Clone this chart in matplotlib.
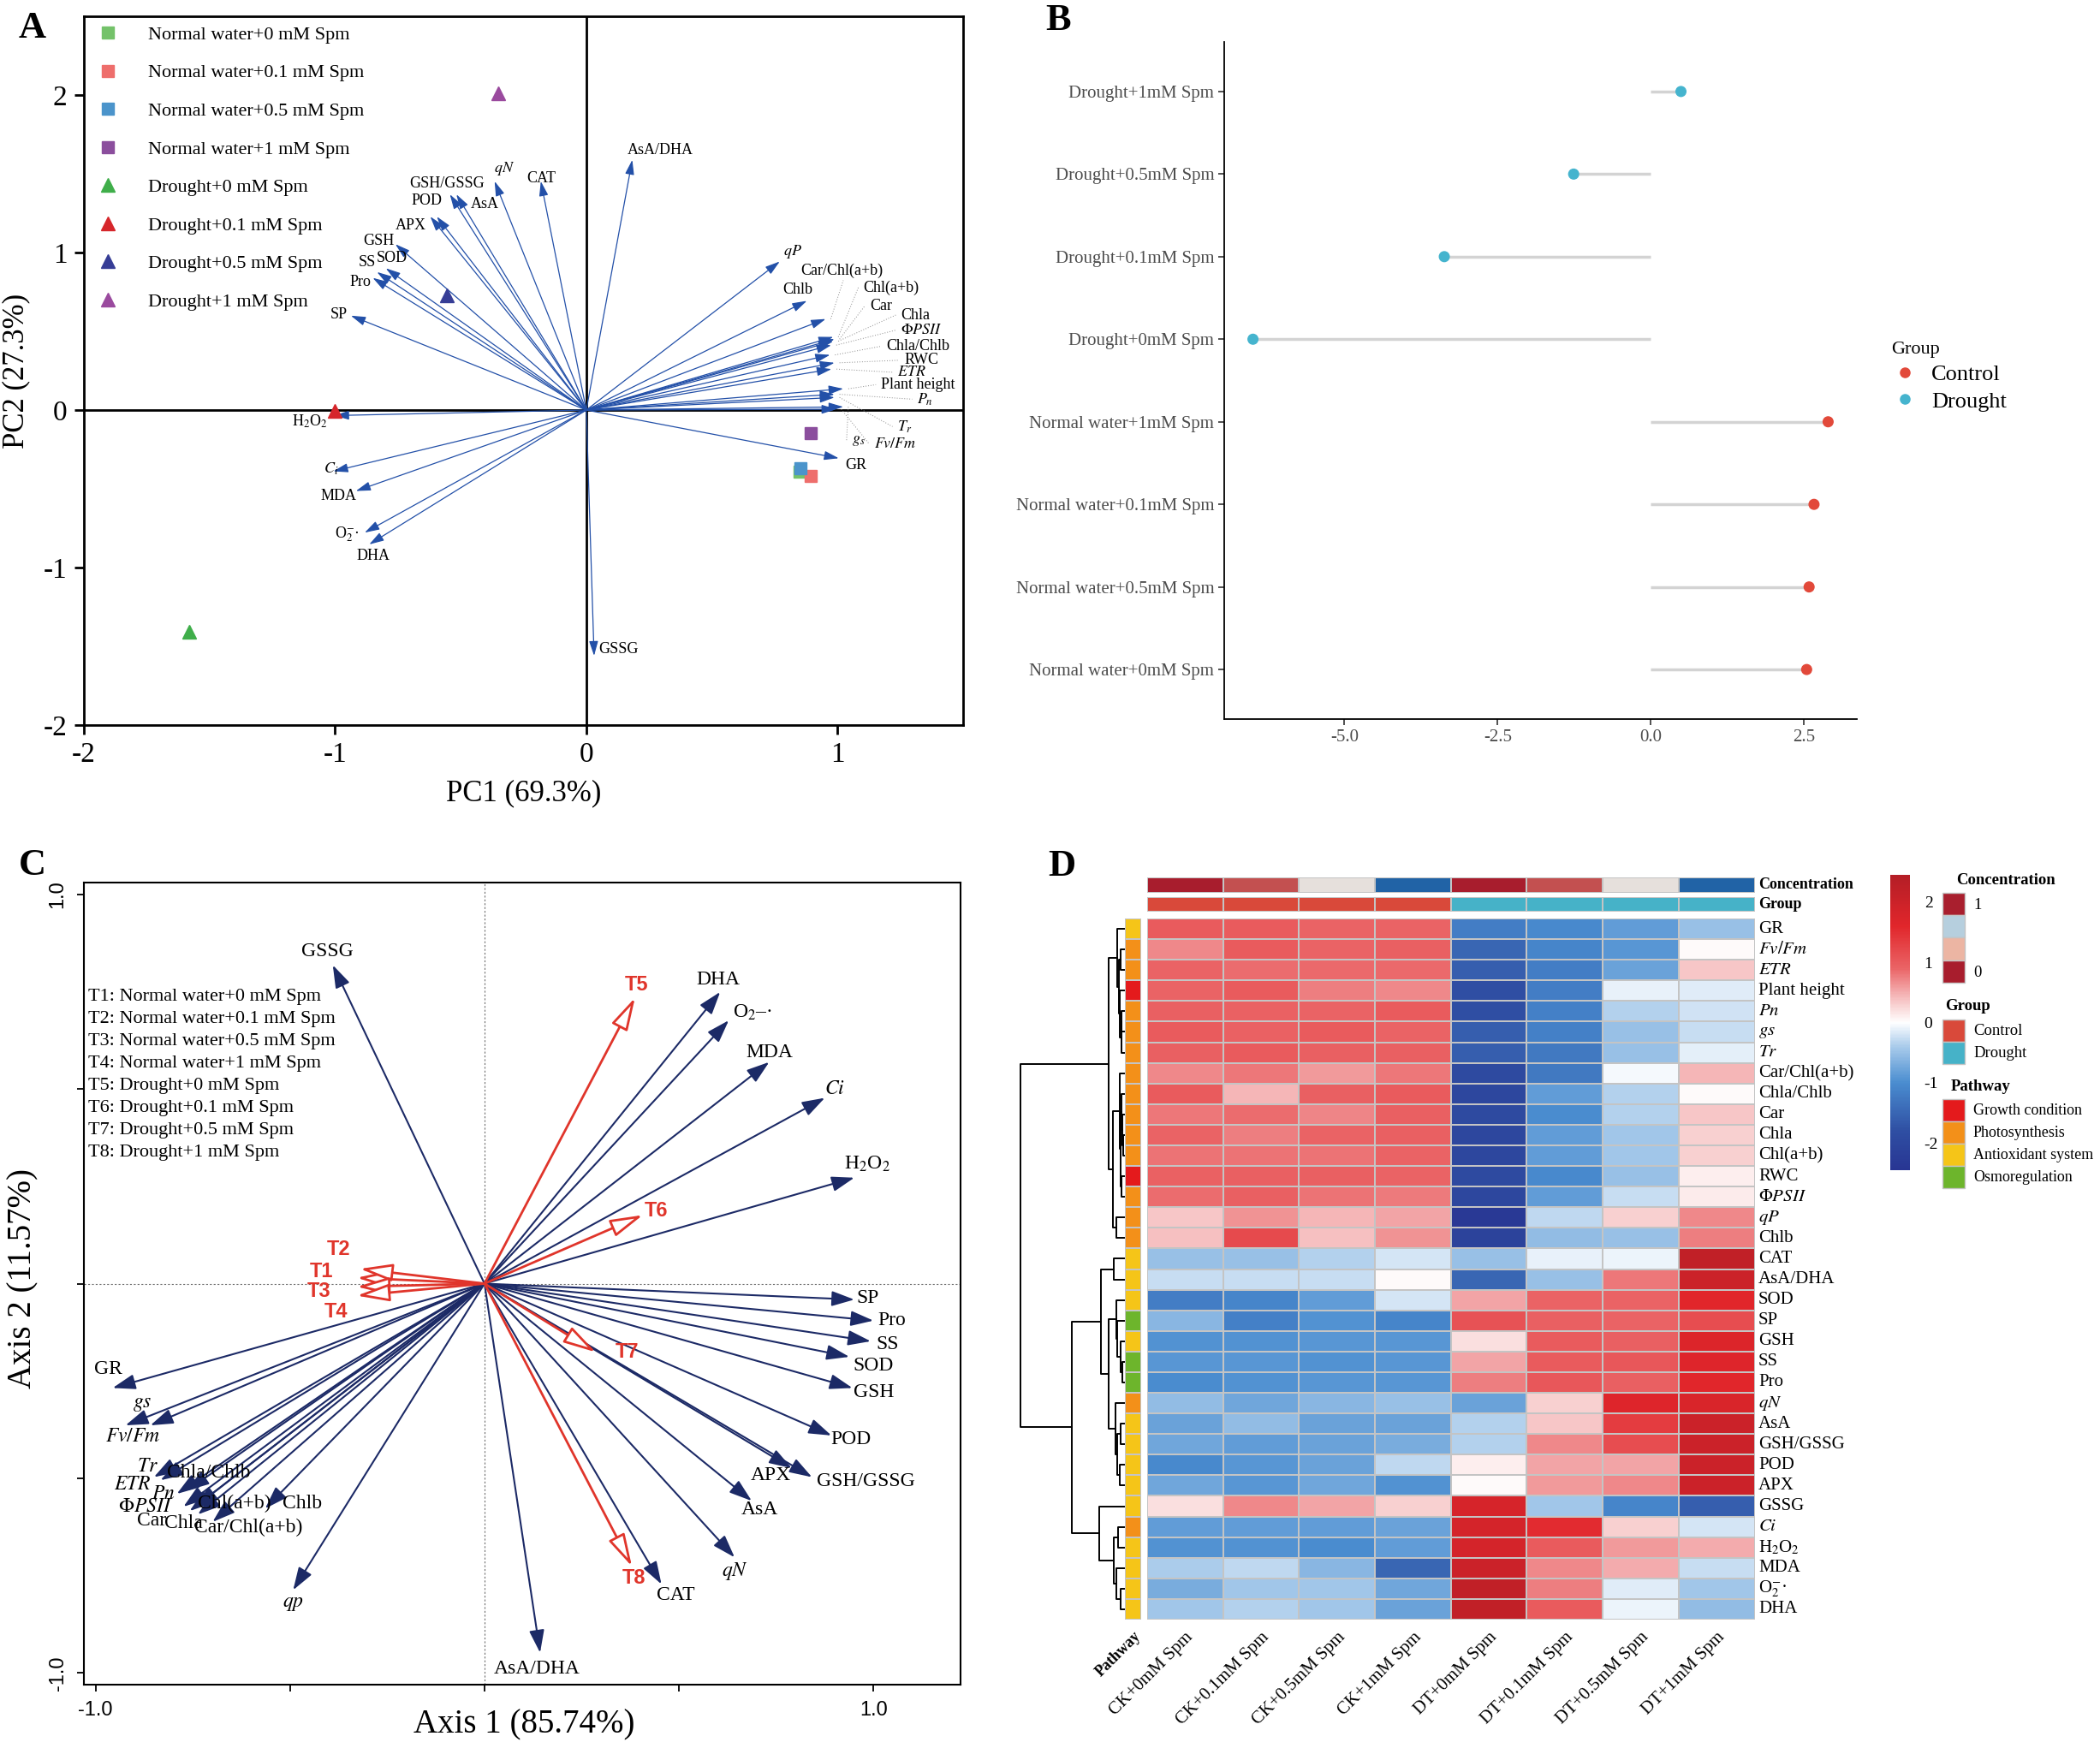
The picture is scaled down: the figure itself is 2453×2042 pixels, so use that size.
import numpy as np
import matplotlib as mpl
import matplotlib.pyplot as plt
from matplotlib.colors import LinearSegmentedColormap, ListedColormap
from matplotlib.lines import Line2D
from matplotlib.patches import Rectangle

mpl.rcParams['font.family'] = ['Liberation Serif', 'DejaVu Serif']
mpl.rcParams['mathtext.fontset'] = 'stix'
mpl.rcParams['axes.unicode_minus'] = False

W, H = 2453, 2042

# ---------------- panel A: PCA biplot ----------------
a_groups = ['Normal water+0 mM Spm', 'Normal water+0.1 mM Spm', 'Normal water+0.5 mM Spm',
            'Normal water+1 mM Spm', 'Drought+0 mM Spm', 'Drought+0.1 mM Spm',
            'Drought+0.5 mM Spm', 'Drought+1 mM Spm']
a_pc1 = [0.849, 0.892, 0.854, 0.892, -1.58, -1.003, -0.555, -0.352]
a_pc2 = [-0.39, -0.42, -0.368, -0.146, -1.41, -0.004, 0.728, 2.01]

a_vars = ['AsA/DHA', 'CAT', 'qN', 'GSH/GSSG', 'AsA', 'POD', 'APX', 'GSH', 'SOD', 'SS', 'Pro',
          'SP', 'H2O2', 'Ci', 'MDA', 'O2', 'DHA', 'GSSG', 'qP', 'Chlb', 'Car/Chl(a+b)',
          'Chl(a+b)', 'Car', 'Chla', 'PhiPSII', 'Chla/Chlb', 'RWC', 'ETR', 'Plant height',
          'Pn', 'Tr', 'gs', 'Fv/Fm', 'GR']
a_load1 = [0.183, -0.181, -0.365, -0.543, -0.517, -0.621, -0.595, -0.76, -0.798, -0.833, -0.85,
           -0.937, -1.003, -1.007, -0.917, -0.882, -0.864, 0.031, 0.77, 0.878, 0.953,
           0.983, 0.988, 0.983, 0.975, 0.97, 0.988, 0.976, 1.023, 0.988, 0.988, 1.023, 0.995, 1.005]
a_load2 = [1.588, 1.452, 1.452, 1.369, 1.369, 1.228, 1.228, 1.053, 0.90, 0.876, 0.839,
           0.599, -0.035, -0.389, -0.514, -0.778, -0.853, -1.56, 0.943, 0.693, 0.578,
           0.464, 0.45, 0.437, 0.412, 0.35, 0.30, 0.26, 0.135, 0.10, 0.08, 0.02, 0.005, -0.306]

# ---------------- panel B: lollipop ----------------
b_labels = ['Normal water+0mM Spm', 'Normal water+0.5mM Spm', 'Normal water+0.1mM Spm',
            'Normal water+1mM Spm', 'Drought+0mM Spm', 'Drought+0.1mM Spm',
            'Drought+0.5mM Spm', 'Drought+1mM Spm']
b_values = [2.54, 2.58, 2.66, 2.89, -6.49, -3.37, -1.26, 0.49]
b_group = ['Control'] * 4 + ['Drought'] * 4

# ---------------- panel C: RDA biplot ----------------
c_vars = ['GSSG', 'DHA', 'O2', 'MDA', 'Ci', 'H2O2', 'SP', 'Pro', 'SS', 'SOD', 'GSH', 'POD',
          'GSH/GSSG', 'APX', 'AsA', 'qN', 'CAT', 'AsA/DHA', 'qp', 'GR', 'gs', 'Fv/Fm', 'Tr',
          'Chla/Chlb', 'ETR', 'Pn', 'PhiPSII', 'Car', 'Chla', 'Chl(a+b)', 'Car/Chl(a+b)', 'Chlb']
c_ax1 = [-0.39, 0.606, 0.628, 0.732, 0.875, 0.951, 0.951, 1.0, 0.993, 0.938, 0.946, 0.892,
         0.842, 0.79, 0.687, 0.643, 0.455, 0.143, -0.492, -0.956, -0.923, -0.859, -0.85,
         -0.766, -0.833, -0.791, -0.774, -0.758, -0.737, -0.744, -0.699, -0.564]
c_ax2 = [0.818, 0.749, 0.676, 0.569, 0.477, 0.272, -0.041, -0.095, -0.148, -0.188, -0.268, -0.39,
         -0.497, -0.474, -0.558, -0.703, -0.772, -0.948, -0.787, -0.268, -0.364, -0.364, -0.497,
         -0.532, -0.505, -0.54, -0.573, -0.584, -0.593, -0.573, -0.612, -0.578]
c_treat = ['T1', 'T2', 'T3', 'T4', 'T5', 'T6', 'T7', 'T8']
c_treat_names = ['Normal water+0 mM Spm', 'Normal water+0.1 mM Spm', 'Normal water+0.5 mM Spm',
                 'Normal water+1 mM Spm', 'Drought+0 mM Spm', 'Drought+0.1 mM Spm',
                 'Drought+0.5 mM Spm', 'Drought+1 mM Spm']
c_t1 = [-0.328, -0.32, -0.328, -0.328, 0.387, 0.407, 0.286, 0.379]
c_t2 = [0.015, 0.038, -0.008, -0.031, 0.734, 0.176, -0.176, -0.726]

# ---------------- panel D: heatmap ----------------
d_cols = ['CK+0mM Spm', 'CK+0.1mM Spm', 'CK+0.5mM Spm', 'CK+1mM Spm',
          'DT+0mM Spm', 'DT+0.1mM Spm', 'DT+0.5mM Spm', 'DT+1mM Spm']
d_conc = [0, 0.1, 0.5, 1, 0, 0.1, 0.5, 1]
d_group = [0, 0, 0, 0, 1, 1, 1, 1]
d_rows = ['GR', 'Fv/Fm', 'ETR', 'Plant height', 'Pn', 'gs', 'Tr', 'Car/Chl(a+b)', 'Chla/Chlb',
          'Car', 'Chla', 'Chl(a+b)', 'RWC', 'PhiPSII', 'qP', 'Chlb', 'CAT', 'AsA/DHA', 'SOD',
          'SP', 'GSH', 'SS', 'Pro', 'qN', 'AsA', 'GSH/GSSG', 'POD', 'APX', 'GSSG', 'Ci',
          'H2O2', 'MDA', 'O2', 'DHA']
d_pathway = [2, 1, 1, 0, 1, 1, 1, 1, 1, 1, 1, 1, 0, 1, 1, 1, 2, 2, 2, 3, 2, 3, 3, 1, 2, 2,
             2, 2, 2, 1, 2, 2, 2, 2]
d_values = [
    [1.0, 1.0, 0.9, 0.9, -1.2, -1.05, -0.85, -0.5],
    [0.7, 1.0, 0.9, 0.95, -1.5, -1.1, -0.9, 0.02],
    [0.9, 0.85, 0.88, 0.88, -1.6, -1.2, -0.8, 0.35],
    [0.9, 1.0, 0.75, 0.7, -1.8, -1.2, -0.1, -0.15],
    [0.95, 0.92, 0.9, 1.0, -1.8, -1.15, -0.35, -0.22],
    [1.0, 0.92, 1.0, 0.9, -1.6, -1.15, -0.5, -0.25],
    [0.95, 1.0, 0.95, 0.95, -1.6, -1.25, -0.5, -0.12],
    [0.7, 0.8, 0.6, 0.8, -1.9, -1.25, -0.05, 0.45],
    [1.0, 0.45, 0.95, 1.0, -2.0, -0.85, -0.35, 0.02],
    [0.8, 0.85, 0.72, 0.95, -1.9, -1.0, -0.35, 0.35],
    [0.9, 0.75, 0.9, 0.95, -2.0, -0.85, -0.45, 0.3],
    [0.82, 0.82, 0.82, 0.9, -2.0, -0.85, -0.45, 0.3],
    [0.92, 0.95, 0.95, 0.9, -1.9, -1.05, -0.5, 0.1],
    [0.85, 0.95, 0.82, 0.78, -2.0, -0.85, -0.25, 0.12],
    [0.35, 0.65, 0.45, 0.55, -2.35, -0.3, 0.3, 0.7],
    [0.4, 1.2, 0.4, 0.65, -2.1, -0.55, -0.5, 0.75],
    [-0.5, -0.5, -0.35, -0.2, -0.5, -0.1, -0.08, 2.2],
    [-0.25, -0.25, -0.25, 0.02, -1.5, -0.5, 0.8, 2.0],
    [-1.2, -1.1, -0.85, -0.2, 0.55, 0.9, 0.9, 1.6],
    [-0.6, -1.15, -0.95, -1.1, 1.1, 0.95, 0.9, 1.15],
    [-0.95, -0.95, -0.9, -0.9, 0.2, 1.0, 0.95, 1.7],
    [-0.9, -0.9, -0.95, -0.9, 0.55, 1.0, 1.05, 1.65],
    [-1.0, -0.95, -0.9, -0.9, 0.75, 1.05, 0.95, 1.6],
    [-0.55, -0.75, -0.6, -0.5, -0.8, 0.3, 1.65, 1.75],
    [-0.8, -0.55, -0.8, -0.8, -0.35, 0.35, 1.35, 2.0],
    [-0.75, -0.85, -0.8, -0.7, -0.35, 0.7, 1.15, 2.0],
    [-1.05, -0.9, -0.8, -0.3, 0.1, 0.55, 0.55, 2.0],
    [-0.75, -0.9, -0.75, -0.95, 0.03, 0.6, 0.7, 2.0],
    [0.2, 0.7, 0.55, 0.3, 1.8, -0.45, -1.1, -1.6],
    [-0.85, -0.85, -0.85, -0.8, 1.85, 1.55, 0.3, -0.2],
    [-0.95, -0.95, -1.0, -0.85, 1.85, 1.0, 0.6, 0.5],
    [-0.4, -0.3, -0.6, -1.5, 2.0, 0.7, 0.5, -0.25],
    [-0.7, -0.45, -0.45, -0.75, 2.2, 0.75, -0.15, -0.45],
    [-0.45, -0.35, -0.45, -0.8, 2.2, 1.0, -0.08, -0.55],
]
# row dendrogram: (child, child, height); new nodes numbered from 34
d_tree = [
    (4, 5, 8), (34, 6, 10), (3, 35, 14), (1, 2, 13), (37, 36, 18), (0, 38, 25),
    (10, 11, 3), (9, 40, 6), (8, 41, 9), (12, 13, 8), (42, 43, 12), (7, 44, 16),
    (14, 15, 27), (45, 46, 38), (39, 47, 53),
    (16, 17, 35), (21, 22, 5), (20, 50, 13), (19, 51, 24), (18, 52, 27), (24, 25, 13),
    (26, 27, 15), (54, 55, 23), (23, 56, 30), (53, 57, 55), (49, 58, 82), (29, 30, 20),
    (32, 33, 13), (31, 61, 27), (60, 62, 35), (28, 63, 88), (59, 64, 183), (48, 65, 363),
]

# ---------------- display text ----------------
a_text = {'H2O2': r'H$_2$O$_2$', 'Ci': r'$C_i$', 'O2': r'O$_2^{-}$·', 'qN': r'$qN$',
          'qP': r'$qP$', 'PhiPSII': r'$\mathit{\Phi PSII}$', 'ETR': r'$ETR$', 'Pn': r'$P_n$',
          'Tr': r'$T_r$', 'gs': r'$g_s$', 'Fv/Fm': r'$Fv/Fm$'}
c_text = {'H2O2': r'H$_2$O$_2$', 'Ci': r'$Ci$', 'O2': r'O$_2$–·', 'qN': r'$qN$', 'qp': r'$qp$',
          'PhiPSII': r'$\mathit{\Phi PSII}$', 'ETR': r'$ETR$', 'Pn': r'$Pn$', 'Tr': r'$Tr$',
          'gs': r'$gs$', 'Fv/Fm': r'$Fv/Fm$'}
d_text = {'H2O2': r'H$_2$O$_2$', 'Ci': r'$Ci$', 'O2': r'O$_2^{-}$·', 'qN': r'$qN$',
          'qP': r'$qP$', 'PhiPSII': r'$\Phi\mathit{PSII}$', 'ETR': r'$ETR$', 'Pn': r'$Pn$',
          'Tr': r'$Tr$', 'gs': r'$gs$', 'Fv/Fm': r'$Fv/Fm$'}

# label placement (layout only)
a_lab = {'AsA/DHA': (0.295, 1.65, 'center'), 'CAT': (-0.18, 1.47, 'center'),
         'qN': (-0.326, 1.53, 'center'), 'GSH/GSSG': (-0.555, 1.44, 'center'),
         'POD': (-0.636, 1.33, 'center'), 'AsA': (-0.404, 1.305, 'center'),
         'APX': (-0.70, 1.17, 'center'), 'GSH': (-0.827, 1.074, 'center'),
         'SS': (-0.874, 0.94, 'center'), 'SOD': (-0.774, 0.965, 'center'),
         'Pro': (-0.90, 0.81, 'center'), 'SP': (-0.986, 0.606, 'center'),
         'H2O2': (-1.10, -0.07, 'center'), 'Ci': (-1.017, -0.375, 'center'),
         'MDA': (-0.986, -0.547, 'center'), 'O2': (-0.952, -0.787, 'center'),
         'DHA': (-0.847, -0.926, 'center'), 'GSSG': (0.05, -1.52, 'left'),
         'qP': (0.82, 1.008, 'center'), 'Chlb': (0.842, 0.761, 'center'), 'GR': (1.03, -0.349, 'left'),
         'Car/Chl(a+b)': (0.853, 0.883, 'left'), 'Chl(a+b)': (1.103, 0.778, 'left'),
         'Car': (1.129, 0.662, 'left'), 'Chla': (1.252, 0.603, 'left'),
         'PhiPSII': (1.252, 0.507, 'left'), 'Chla/Chlb': (1.194, 0.405, 'left'),
         'RWC': (1.265, 0.316, 'left'), 'ETR': (1.239, 0.24, 'left'),
         'Plant height': (1.173, 0.161, 'left'), 'Pn': (1.317, 0.069, 'left'),
         'Tr': (1.239, -0.105, 'left'), 'gs': (1.056, -0.194, 'left'),
         'Fv/Fm': (1.147, -0.217, 'left')}
a_leader = ['Car/Chl(a+b)', 'Chl(a+b)', 'Car', 'Chla', 'PhiPSII', 'Chla/Chlb', 'RWC', 'ETR',
            'Plant height', 'Pn', 'Tr', 'gs', 'Fv/Fm']
c_lab = {'GSSG': (-0.404, 0.852), 'DHA': (0.601, 0.78), 'O2': (0.69, 0.696), 'MDA': (0.732, 0.593),
         'Ci': (0.90, 0.5), 'H2O2': (0.985, 0.306), 'SP': (0.985, -0.038), 'Pro': (1.047, -0.095),
         'SS': (1.035, -0.157), 'SOD': (1.0, -0.211), 'GSH': (1.0, -0.28), 'POD': (0.943, -0.40),
         'GSH/GSSG': (0.98, -0.508), 'APX': (0.736, -0.492), 'AsA': (0.707, -0.58),
         'qN': (0.643, -0.739), 'CAT': (0.492, -0.80), 'AsA/DHA': (0.135, -0.989),
         'qp': (-0.492, -0.823), 'GR': (-0.968, -0.219), 'gs': (-0.879, -0.31),
         'Fv/Fm': (-0.904, -0.394), 'Tr': (-0.867, -0.471), 'ETR': (-0.904, -0.517),
         'Chla/Chlb': (-0.71, -0.486), 'Pn': (-0.825, -0.54), 'PhiPSII': (-0.872, -0.573),
         'Car': (-0.855, -0.609), 'Chla': (-0.774, -0.615), 'Chl(a+b)': (-0.643, -0.566),
         'Car/Chl(a+b)': (-0.606, -0.627), 'Chlb': (-0.468, -0.566)}
c_tlab = [(-0.42, 0.03), (-0.375, 0.087), (-0.425, -0.02), (-0.382, -0.072),
          (0.39, 0.767), (0.442, 0.186), (0.367, -0.176), (0.385, -0.757)]

a_colors = ['#74C26A', '#EE6E6C', '#4B94CB', '#8B4E9D', '#3FAE4A', '#D6262B', '#363D96', '#9A4A9E']
a_marks = ['s'] * 4 + ['^'] * 4
b_pal = {'Control': '#E2493A', 'Drought': '#45B4CE'}

fig = plt.figure(figsize=(W / 100, H / 100), dpi=100)

# ===== A =====
axA = fig.add_axes([98 / W, 1 - 847 / H, 1027 / W, 828 / H])
axA.set_xlim(-2, 1.5)
axA.set_ylim(-2, 2.5)
axA.axhline(0, color='k', lw=2.0, zorder=1)
axA.axvline(0, color='k', lw=2.0, zorder=1)
for n, x, y in zip(a_vars, a_load1, a_load2):
    axA.annotate('', xy=(x, y), xytext=(0, 0),
                 arrowprops=dict(arrowstyle='-|>,head_length=0.65,head_width=0.2', color='#2350A8',
                                 lw=0.9, shrinkA=0, shrinkB=0, mutation_scale=16), zorder=3)
    lx, ly, ha = a_lab[n]
    axA.text(lx, ly, a_text.get(n, n), fontsize=13, ha=ha, va='center', zorder=4)
    if n in a_leader:
        ex = lx - 0.02 if n != 'Car/Chl(a+b)' else lx + 0.17
        ey = ly if n != 'Car/Chl(a+b)' else ly - 0.06
        axA.plot([x + 0.02, ex], [y, ey], ls=(0, (1, 2)), color='#8A8A8A', lw=0.7, zorder=2)
for i in range(len(a_groups)):
    axA.plot(a_pc1[i], a_pc2[i], ls='', marker=a_marks[i], color=a_colors[i],
             ms=10 if a_marks[i] == 's' else 12, zorder=5, label=a_groups[i])
axA.legend(loc='upper left', bbox_to_anchor=(0.008, 0.997), frameon=False, fontsize=16,
           handlelength=1.0, handletextpad=1.6, labelspacing=1.08, borderaxespad=0)
axA.set_xticks([-2, -1, 0, 1])
axA.set_yticks([-2, -1, 0, 1, 2])
axA.tick_params(labelsize=24, width=2, length=8, direction='out', pad=6)
for s in axA.spines.values():
    s.set_linewidth(2.0)

# ===== B =====
axB = fig.add_axes([1430 / W, 1 - 840 / H, 739 / W, 791 / H])
yb = np.arange(1, len(b_labels) + 1)
axB.hlines(yb, 0, b_values, color='#D3D3D3', lw=2.5, zorder=1)
axB.scatter(b_values, yb, c=[b_pal[g] for g in b_group], s=70, zorder=2)
lo, hi = min(min(b_values), 0), max(max(b_values), 0)
pad = 0.05 * (hi - lo)
axB.set_xlim(lo - pad, hi + pad)
axB.set_ylim(0.4, len(b_labels) + 0.6)
axB.set_yticks(yb)
axB.set_yticklabels(b_labels)
axB.set_xticks([-5, -2.5, 0, 2.5])
axB.set_xticklabels(['-5.0', '-2.5', '0.0', '2.5'])
axB.tick_params(labelsize=15, labelcolor='#4D4D4D', length=5, width=1.2, color='#333333')
for s in ['top', 'right']:
    axB.spines[s].set_visible(False)
for s in ['left', 'bottom']:
    axB.spines[s].set_linewidth(1.3)
hB = [Line2D([], [], ls='', marker='o', ms=8, color=b_pal[k]) for k in b_pal]
fig.legend(hB, list(b_pal), title='Group', loc='upper left',
           bbox_to_anchor=(2185 / W, 1 - 375 / H), frameon=False, fontsize=19,
           title_fontsize=16, alignment='left', handletextpad=0.6, labelspacing=0.3,
           handlelength=1.2)

# ===== C =====
axC = fig.add_axes([98 / W, 1 - 1968 / H, 1024 / W, 937 / H])
axC.set_xlim(-1.03, 1.224)
axC.set_ylim(-1.03, 1.03)
axC.axhline(0, ls=(0, (2, 2)), color='#6E6E6E', lw=0.8)
axC.axvline(0, ls=(0, (2, 2)), color='#6E6E6E', lw=0.8)
for n, x, y in zip(c_vars, c_ax1, c_ax2):
    axC.annotate('', xy=(x, y), xytext=(0, 0),
                 arrowprops=dict(arrowstyle='-|>,head_length=0.9,head_width=0.3', color='#1C2A66',
                                 lw=1.5, shrinkA=0, shrinkB=0, mutation_scale=18), zorder=3)
    lx, ly = c_lab[n]
    axC.text(lx, ly, c_text.get(n, n), fontsize=17, ha='center', va='center', zorder=4)
for i, t in enumerate(c_treat):
    axC.annotate('', xy=(c_t1[i], c_t2[i]), xytext=(0, 0),
                 arrowprops=dict(arrowstyle='-|>,head_length=1.3,head_width=0.35',
                                 edgecolor='#E0352B', facecolor='white', lw=2.0,
                                 shrinkA=0, shrinkB=0, mutation_scale=18), zorder=5)
    axC.text(c_tlab[i][0], c_tlab[i][1], t, color='#E0352B', fontsize=17, fontweight='bold',
             family='Liberation Sans', ha='center', va='center', zorder=6)
for i, t in enumerate(c_treat):
    axC.text(-1.018, 0.737 - i * 0.0573, f'{t}: {c_treat_names[i]}', fontsize=16,
             ha='left', va='center')
axC.set_xticks([-1, -0.5, 0, 0.5, 1])
axC.set_xticklabels(['-1.0', '', '', '', '1.0'], family='Liberation Sans')
axC.set_yticks([-1, -0.5, 0, 0.5, 1])
axC.set_yticklabels(['-1.0', '', '', '', '1.0'], family='Liberation Sans', rotation=90,
                    va='center')
axC.tick_params(labelsize=17, length=6, width=1.3, pad=8)
for s in axC.spines.values():
    s.set_linewidth(1.5)

# ===== D =====
hm_cmap = LinearSegmentedColormap.from_list('hm', [
    (0.0, '#283593'), (0.133, '#2F4FA3'), (0.296, '#4A8DD0'), (0.418, '#A9CBEB'),
    (0.5, '#FFFFFF'), (0.582, '#F6BFC0'), (0.684, '#EA6466'), (0.827, '#E1262B'),
    (1.0, '#B41E26')])
conc_cmap = LinearSegmentedColormap.from_list('conc', [
    (0.0, '#A81D2D'), (0.25, '#EE9F86'), (0.5, '#E7E0DC'), (0.75, '#9EC7DF'), (1.0, '#2163A6')])
grp_cmap = ListedColormap(['#D9493A', '#46B2C8'])
path_names = ['Growth condition', 'Photosynthesis', 'Antioxidant system', 'Osmoregulation']
path_cmap = ListedColormap(['#E41A1C', '#F39019', '#F5C518', '#6DB52C'])
vlim = 2.45
nr, nc = len(d_rows), len(d_cols)
edge = '#C4C4C4'

axH = fig.add_axes([1340 / W, 1 - 1892 / H, 709.5 / W, 819 / H])
axH.pcolormesh(np.array(d_values), cmap=hm_cmap, vmin=-vlim, vmax=vlim, edgecolors=edge,
               linewidth=1.2)
axH.set_xlim(0, nc)
axH.set_ylim(nr, 0)
axH.axis('off')
for r, n in enumerate(d_rows):
    axH.text(nc + 0.05, r + 0.5, d_text.get(n, n), fontsize=15, ha='left', va='center')
for c, n in enumerate(d_cols):
    axH.text(c + 0.5, nr + 0.45, n, fontsize=15, rotation=45, ha='right', va='top',
             rotation_mode='anchor')

axCon = fig.add_axes([1340 / W, 1 - 1043 / H, 709.5 / W, 18.3 / H])
axCon.pcolormesh(np.array([d_conc]), cmap=conc_cmap, vmin=0, vmax=1, edgecolors=edge, linewidth=1.2)
axCon.set_xlim(0, nc)
axCon.axis('off')
axCon.text(nc + 0.05, 0.5, 'Concentration', fontsize=13, fontweight='bold', ha='left', va='center')
axGr = fig.add_axes([1340 / W, 1 - 1065.3 / H, 709.5 / W, 17.6 / H])
axGr.pcolormesh(np.array([d_group]), cmap=grp_cmap, vmin=0, vmax=1, edgecolors=edge, linewidth=1.2)
axGr.set_xlim(0, nc)
axGr.axis('off')
axGr.text(nc + 0.05, 0.5, 'Group', fontsize=13, fontweight='bold', ha='left', va='center')

axP = fig.add_axes([1314 / W, 1 - 1892 / H, 19 / W, 819 / H])
axP.pcolormesh(np.array(d_pathway).reshape(-1, 1), cmap=path_cmap, vmin=-0.5, vmax=3.5,
               edgecolors=edge, linewidth=1.2)
axP.set_ylim(nr, 0)
axP.axis('off')
axP.text(0.5, nr + 0.45, 'Pathway', fontsize=13, fontweight='bold', rotation=45, ha='right',
         va='top', rotation_mode='anchor')

axT = fig.add_axes([1192 / W, 1 - 1892 / H, 121 / W, 819 / H])
pos = {i: (0.0, i + 0.5) for i in range(nr)}
nid = nr
for a, b, h in d_tree:
    ha_, ya = pos[a]
    hb, yb_ = pos[b]
    axT.plot([ha_, h, h, hb], [ya, ya, yb_, yb_], color='k', lw=1.4, clip_on=False)
    pos[nid] = (h, (ya + yb_) / 2)
    nid += 1
axT.set_xlim(max(t[2] for t in d_tree), 0)
axT.set_ylim(nr, 0)
axT.axis('off')

axCb = fig.add_axes([2208 / W, 1 - 1367 / H, 23 / W, 345 / H])
cb = fig.colorbar(mpl.cm.ScalarMappable(norm=mpl.colors.Normalize(-vlim, vlim), cmap=hm_cmap),
                  cax=axCb, ticks=[-2, -1, 0, 1, 2])
cb.outline.set_visible(False)
axCb.tick_params(length=0, pad=12, labelsize=14)

# overlay for free text / legends (pixel coordinates)
ov = fig.add_axes([0, 0, 1, 1], zorder=10)
ov.set_xlim(0, W)
ov.set_ylim(H, 0)
ov.axis('off')
for lab, x, y in [('A', 38, 33), ('B', 1236, 24), ('C', 38, 1011), ('D', 1240, 1012)]:
    ov.text(x, y, lab, fontsize=32, fontweight='bold', ha='center', va='center')
ov.text(612, 927, 'PC1 (69.3%)', fontsize=25, ha='center', va='center')
ov.text(19, 433, 'PC2 (27.3%)', fontsize=25, ha='center', va='center', rotation=90)
ov.text(612, 2015, 'Axis 1 (85.74%)', fontsize=28, ha='center', va='center')
ov.text(27, 1493, 'Axis 2 (11.57%)', fontsize=28, ha='center', va='center', rotation=90)

ov.text(2285, 1028, 'Concentration', fontsize=13.5, fontweight='bold', ha='left', va='center')
for k, v in enumerate([1, 2 / 3, 1 / 3, 0]):
    ov.add_patch(Rectangle((2269, 1043 + 26.2 * k), 26, 26.2, fc=conc_cmap(v), ec='#C4C4C4', lw=1))
ov.text(2305, 1057, '1', fontsize=13.5, ha='left', va='center')
ov.text(2305, 1136, '0', fontsize=13.5, ha='left', va='center')
ov.text(2272, 1175, 'Group', fontsize=13.5, fontweight='bold', ha='left', va='center')
for k, g in enumerate(['Control', 'Drought']):
    ov.add_patch(Rectangle((2269, 1191 + 26 * k), 26, 26, fc=grp_cmap(k), ec='#C4C4C4', lw=1))
    ov.text(2305, 1204 + 26 * k, g, fontsize=13.5, ha='left', va='center')
ov.text(2279, 1269, 'Pathway', fontsize=13.5, fontweight='bold', ha='left', va='center')
for k, p in enumerate(path_names):
    ov.add_patch(Rectangle((2269, 1284 + 26 * k), 26, 26, fc=path_cmap(k), ec='#C4C4C4', lw=1))
    ov.text(2305, 1297 + 26 * k, p, fontsize=13, ha='left', va='center')

fig.savefig('out.png', dpi=100)
